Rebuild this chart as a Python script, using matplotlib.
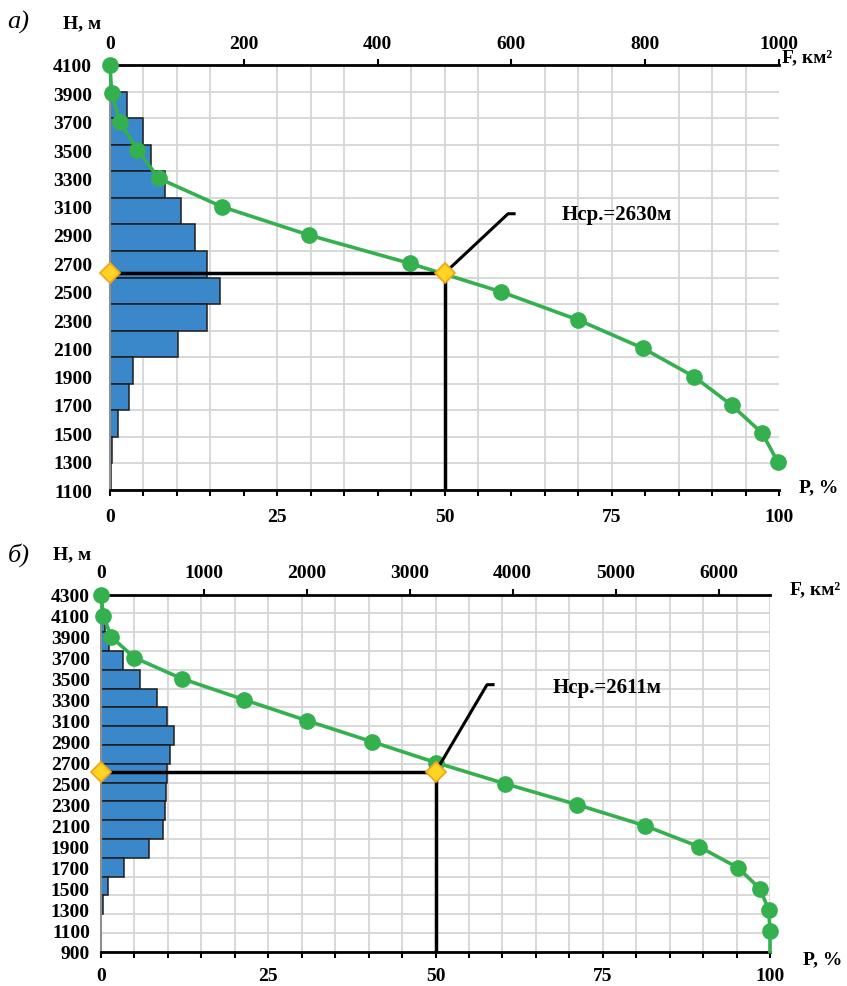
import numpy as np
import matplotlib.pyplot as plt

# panel а)
h_a = [4100, 3900, 3700, 3500, 3300, 3100, 2900, 2700, 2500, 2300, 2100, 1900, 1700, 1500, 1300]
p_a = [0, 0.25, 1.5, 4.1, 7.3, 16.7, 29.7, 44.8, 58.4, 70.0, 79.7, 87.3, 92.9, 97.5, 99.8]
bands_a = [0, 25, 49, 62, 82, 106, 127, 145, 165, 145, 102, 34, 29, 11.5, 3, 1]  # km2, top to bottom
h_mean_a = 2630
note_a = 'Нср.=2630м'

# panel б)
h_b = [4300, 4100, 3900, 3700, 3500, 3300, 3100, 2900, 2700, 2500, 2300, 2100,
       1900, 1700, 1500, 1300, 1100, 900]
p_b = [0, 0.35, 1.5, 5.0, 12.1, 21.4, 30.8, 40.5, 50.1, 60.4, 71.2, 81.3,
       89.4, 95.2, 98.5, 99.8, 100, 100]
bands_b = [0, 35, 78, 217, 379, 541, 638, 712, 671, 638, 629, 622, 600, 469, 226, 68, 16, 0, 0]
h_mean_b = 2611
note_b = 'Нср.=2611м'

W, H = 847, 987
BLUE = '#3a87c9'
GREEN = '#34b04e'

plt.rcParams['font.family'] = ['Liberation Serif', 'DejaVu Serif']
plt.rcParams['font.weight'] = 'bold'

fig = plt.figure(figsize=(W / 100, H / 100), dpi=100)


def rect(x0, y0, x1, y1):
    return [x0 / W, 1 - y1 / H, (x1 - x0) / W, (y1 - y0) / H]


def ftext(px, py, s, **kw):
    fig.text(px / W, 1 - py / H, s, **kw)


def panel(r, h_pts, p_pts, n_mark, bands, f_max, f_step, h_lo, h_hi,
          h_mean, lead, note_pos, note, pads):
    # bars + grid on their own axes (area axis on top)
    axb = fig.add_axes(r)
    n = len(bands)
    axb.barh(np.arange(n) + 0.5, bands, height=1.0, color=BLUE,
             edgecolor='#1e1e1e', lw=1.1, zorder=2)
    axb.set_xlim(0, f_max)
    axb.set_ylim(n, 0)
    axb.set_xticks(np.arange(0, f_max + 1, f_step))
    axb.set_xticks(np.linspace(0, f_max, 21), minor=True)
    axb.set_yticks([])
    axb.set_yticks(np.arange(n + 1), minor=True)
    axb.grid(which='minor', color='#d6d6d6', lw=1.3)
    axb.set_axisbelow(True)
    axb.xaxis.tick_top()
    axb.tick_params(axis='x', which='major', direction='out', length=4.5,
                    width=1.5, pad=pads[0], labelsize=14)
    axb.tick_params(axis='x', which='minor', length=0)
    axb.tick_params(axis='y', which='both', length=0, labelleft=False)
    for s in axb.spines.values():
        s.set_visible(False)

    # hypsographic curve
    ax = fig.add_axes(r)
    ax.patch.set_visible(False)
    ax.set_xlim(0, 100)
    ax.set_ylim(h_lo, h_hi)
    ax.plot(p_pts, h_pts, color=GREEN, lw=2.6, marker='o', ms=11,
            markevery=list(range(n_mark)), clip_on=False, zorder=4)
    ax.plot([0, 50], [h_mean, h_mean], color='k', lw=2.5, zorder=5)
    ax.plot([50, 50], [h_mean, h_lo], color='k', lw=2.5, zorder=5)
    ax.plot([50, lead[0], lead[0] + 0.9], [h_mean, lead[1], lead[1]],
            color='k', lw=2.2, zorder=5)
    ax.plot([0, 50], [h_mean, h_mean], ls='none', marker='D', ms=10,
            mfc='#ffd424', mec='#f2a516', mew=1.3, clip_on=False, zorder=6)
    ax.text(note_pos[0], note_pos[1], note, fontsize=15, ha='left', va='center')

    ax.spines['right'].set_visible(False)
    ax.spines['top'].set_linewidth(2)
    ax.spines['bottom'].set_linewidth(2)
    ax.spines['left'].set_color('#8f8f8f')
    ax.spines['left'].set_linewidth(1.5)
    ax.xaxis.set_ticks_position('bottom')
    ax.set_xticks([0, 25, 50, 75, 100])
    ax.set_xticks(np.arange(0, 101, 5), minor=True)
    ax.tick_params(axis='x', which='both', direction='out', length=4,
                   width=1.5, pad=pads[1], labelsize=14)
    ax.set_yticks(np.arange(h_lo, h_hi + 1, 200))
    ax.tick_params(axis='y', length=0, pad=pads[2], labelsize=14)
    return ax


panel(rect(110, 66, 779, 491), h_a, p_a, len(h_a), bands_a, 1000, 200,
      1100, 4100, h_mean_a, (59.5, 3050), (67.5, 3046), note_a, (5, 9, 13))
panel(rect(101, 595.7, 770, 952.7), h_b, p_b, len(h_b) - 1, bands_b, 6500, 1000,
      900, 4300, h_mean_b, (57.7, 3443), (67.5, 3421), note_b, (5.5, 7, 8))

# panel captions and axis names
ftext(7, 22, 'а)', fontsize=19, style='italic', fontweight='normal', va='center')
ftext(63, 24, 'Н, м', fontsize=14, va='center')
ftext(782, 58, 'F, км²', fontsize=14, va='center')
ftext(799, 488, 'P, %', fontsize=14, va='center')

ftext(8, 555, 'б)', fontsize=19, style='italic', fontweight='normal', va='center')
ftext(53, 555, 'Н, м', fontsize=14, va='center')
ftext(790, 590, 'F, км²', fontsize=14, va='center')
ftext(803, 960, 'P, %', fontsize=14, va='center')

fig.savefig('out.png', dpi=100)
